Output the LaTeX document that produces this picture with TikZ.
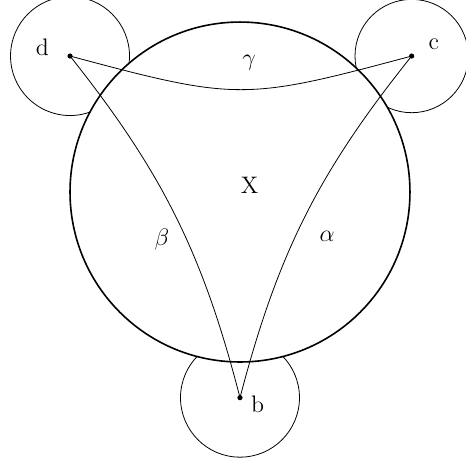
\documentclass[tikz,border=0pt]{standalone}
\usepackage{amsmath,amssymb}
\usepackage{tikz}
\begin{document}
\begin{tikzpicture}[every node/.style={font=\large}]
\tikzset{halo/.style={draw,thin},
  disk/.style={draw,thick,fill=white},
  side/.style={draw,thin},
  vtx/.style={circle,fill=black,inner sep=0pt,minimum size=2.6pt}}
\useasboundingbox (-4.236,-4.783) rectangle (3.989,3.389);

% points and the circles round them
\coordinate (O) at (0,0);
\coordinate (pd) at (-3.0,2.40);
\coordinate (pc) at (3.03,2.40);
\coordinate (pb) at (0,-3.63);
\draw[halo] (pd) circle (1.05);
\draw[halo] (pc) circle (1.0);
\draw[halo] (pb) circle (1.05);
\draw[disk] (O) circle (3);

% sides
\draw[side] (pd) to[bend right=15,looseness=1.3] (pc);
\draw[side] (pd) to[bend left=12] (pb);
\draw[side] (pc) to[bend right=12] (pb);

\node[vtx] (d) at (pd) {};
\node[vtx] (c) at (pc) {};
\node[vtx] (b) at (pb) {};

% labels
\node (ld) at (-3.49,2.55) {d};
\node (lc) at (3.42,2.61) {c};
\node (lb) at (0.31,-3.74) {b};
\node (lX) at (0.17,0.12) {X};
\node (lgamma) at (0.16,2.29) {$\gamma$};
\node (lbeta) at (-1.38,-0.84) {$\beta$};
\node (lalpha) at (1.54,-0.78) {$\alpha$};
\end{tikzpicture}
\end{document}
